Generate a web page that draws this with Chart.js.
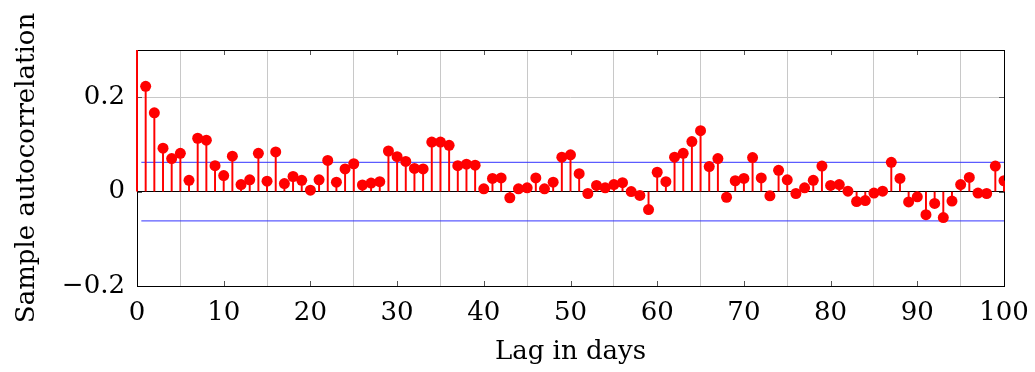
<!DOCTYPE html>
<html>
<head>
<meta charset="utf-8">
<script src="https://cdn.jsdelivr.net/npm/chart.js@4.4.1/dist/chart.umd.min.js"></script>
<style>
  html, body { margin: 0; padding: 0; background: #fff; }
  #wrap { width: 1035px; height: 372px; }
</style>
</head>
<body>
<div id="wrap"><canvas id="acfChart" width="1035" height="372"></canvas></div>
<script>
// lag (days) and sample autocorrelation
var lags = [0, 1, 2, 3, 4, 5, 6, 7, 8, 9, 10,
  11, 12, 13, 14, 15, 16, 17, 18, 19, 20,
  21, 22, 23, 24, 25, 26, 27, 28, 29, 30,
  31, 32, 33, 34, 35, 36, 37, 38, 39, 40,
  41, 42, 43, 44, 45, 46, 47, 48, 49, 50,
  51, 52, 53, 54, 55, 56, 57, 58, 59, 60,
  61, 62, 63, 64, 65, 66, 67, 68, 69, 70,
  71, 72, 73, 74, 75, 76, 77, 78, 79, 80,
  81, 82, 83, 84, 85, 86, 87, 88, 89, 90,
  91, 92, 93, 94, 95, 96, 97, 98, 99, 100];
var acf = [1, 0.223, 0.167, 0.092, 0.070, 0.081, 0.024, 0.113, 0.109, 0.055, 0.034,
  0.075, 0.015, 0.025, 0.081, 0.022, 0.084, 0.017, 0.032, 0.024, 0.003,
  0.025, 0.066, 0.020, 0.048, 0.059, 0.014, 0.018, 0.021, 0.086, 0.074,
  0.064, 0.049, 0.048, 0.105, 0.105, 0.098, 0.055, 0.058, 0.056, 0.006,
  0.028, 0.029, -0.013, 0.006, 0.008, 0.029, 0.006, 0.020, 0.073, 0.078,
  0.038, -0.004, 0.013, 0.008, 0.015, 0.019, 0.000, -0.008, -0.038, 0.041,
  0.021, 0.073, 0.081, 0.106, 0.129, 0.053, 0.070, -0.012, 0.023, 0.028,
  0.072, 0.029, -0.009, 0.045, 0.025, -0.004, 0.008, 0.024, 0.054, 0.013,
  0.015, 0.001, -0.021, -0.019, -0.003, 0.001, 0.062, 0.028, -0.022, -0.011,
  -0.049, -0.025, -0.055, -0.020, 0.015, 0.030, -0.003, -0.004, 0.054, 0.023];
var boundX = [0.5, 100];
var bound = 0.062;
var xTicks = [0, 10, 20, 30, 40, 50, 60, 70, 80, 90, 100];
var yTicks = [-0.2, 0, 0.2];

var points = lags.map(function(l, i) { return { x: l, y: acf[i] }; });

var font = 'DejaVu Serif';

// black frame plus small inner tick marks, pgfplots style
var framePlugin = {
  id: 'frame',
  beforeDatasetsDraw: function(chart) {
    var c = chart.ctx, a = chart.chartArea;
    var xs = chart.scales.x, ys = chart.scales.y;
    c.save();
    c.strokeStyle = '#555';
    c.lineWidth = 1;
    c.beginPath();
    xTicks.forEach(function(t) {
      var px = Math.round(xs.getPixelForValue(t)) + 0.5;
      c.moveTo(px, a.bottom); c.lineTo(px, a.bottom - 5);
      c.moveTo(px, a.top); c.lineTo(px, a.top + 5);
    });
    yTicks.forEach(function(t) {
      var py = Math.round(ys.getPixelForValue(t)) + 0.5;
      c.moveTo(a.left, py); c.lineTo(a.left + 5, py);
      c.moveTo(a.right, py); c.lineTo(a.right - 5, py);
    });
    c.stroke();
    c.strokeStyle = '#000';
    c.strokeRect(Math.round(a.left) + 0.5, Math.round(a.top) + 0.5,
      Math.round(a.right - a.left), Math.round(a.bottom - a.top));
    c.restore();
  }
};

new Chart(document.getElementById('acfChart').getContext('2d'), {
  type: 'bar',
  data: {
    datasets: [
      {
        type: 'scatter',
        data: points,
        pointRadius: 5.5,
        pointHoverRadius: 5.5,
        backgroundColor: '#ff0000',
        borderWidth: 0,
        order: 0
      },
      {
        type: 'bar',
        data: points,
        backgroundColor: '#ff0000',
        barThickness: 1.3,
        clip: { left: 3, top: 0, right: 3, bottom: 0 },
        order: 1
      },
      {
        type: 'line',
        data: [{ x: boundX[0], y: bound }, { x: boundX[1], y: bound }],
        borderColor: 'rgba(50,50,255,0.8)',
        borderWidth: 1.4,
        pointRadius: 0,
        order: 2
      },
      {
        type: 'line',
        data: [{ x: boundX[0], y: -bound }, { x: boundX[1], y: -bound }],
        borderColor: 'rgba(50,50,255,0.8)',
        borderWidth: 1.4,
        pointRadius: 0,
        order: 2
      }
    ]
  },
  plugins: [framePlugin],
  options: {
    responsive: false,
    animation: false,
    layout: { padding: { top: 50, right: 31, left: 0, bottom: 0 } },
    plugins: {
      legend: { display: false },
      tooltip: { enabled: false }
    },
    scales: {
      x: {
        type: 'linear',
        min: 0,
        max: 100,
        offset: false,
        afterFit: function(s) { s.height = 86; s.paddingLeft = 0; s.paddingRight = 0; },
        afterBuildTicks: function(s) { s.ticks = xTicks.map(function(v) { return { value: v }; }); },
        border: { display: false },
        grid: { color: '#c8c8c8', drawTicks: false, lineWidth: 1 },
        ticks: {
          padding: 12,
          color: '#000',
          font: { family: font, size: 26 },
          maxRotation: 0,
          callback: function(v) { return String(v); }
        },
        title: {
          display: true,
          text: 'Lag in days',
          color: '#000',
          font: { family: font, size: 26 },
          padding: { top: 0, bottom: 4 }
        }
      },
      y: {
        min: -0.2,
        max: 0.3,
        afterFit: function(s) { s.width = 137; },
        afterBuildTicks: function(s) { s.ticks = yTicks.map(function(v) { return { value: v }; }); },
        border: { display: false },
        grid: {
          drawTicks: false,
          color: function(ctx) { return ctx.tick && ctx.tick.value === 0 ? '#000' : '#c8c8c8'; }
        },
        ticks: {
          padding: 12,
          color: '#000',
          font: { family: font, size: 26 },
          callback: function(v) {
            if (v === 0) return '0';
            return (v < 0 ? '\u2212' : '') + Math.abs(v).toFixed(1);
          }
        },
        title: {
          display: true,
          text: 'Sample autocorrelation',
          color: '#000',
          font: { family: font, size: 26 },
          padding: { top: 12, bottom: 0 }
        }
      }
    }
  }
});
</script>
</body>
</html>
